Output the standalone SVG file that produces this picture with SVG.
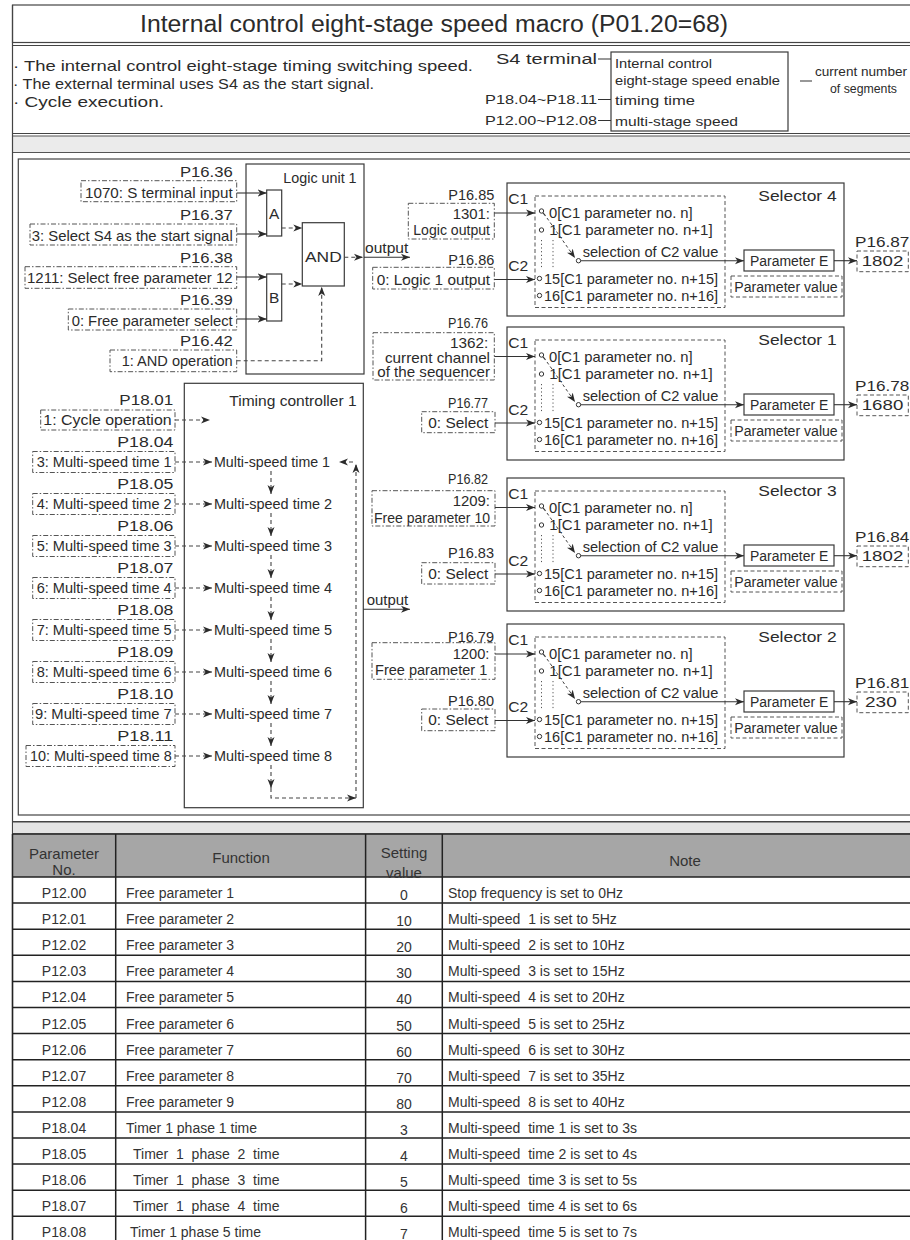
<svg xmlns="http://www.w3.org/2000/svg" width="910" height="1240" viewBox="0 0 910 1240">
<defs>
<style>
.t{font-family:"Liberation Sans",Arial,sans-serif;fill:#2b2b2b}
.a{font-size:15px}.b{font-size:14.5px}.c{font-size:14px}.d{font-size:13px}
.tt{font-family:"Liberation Sans",Arial,sans-serif;fill:#333;font-size:14px;white-space:pre}
.th{font-family:"Liberation Sans",Arial,sans-serif;fill:#333;font-size:15px}
.dd{fill:none;stroke:#555;stroke-width:1;stroke-dasharray:5 2 1.5 2}
.ds{fill:none;stroke:#555;stroke-width:1;stroke-dasharray:4 2.5}
.bx{fill:none;stroke:#3a3a3a;stroke-width:1.2}
.ln{fill:none;stroke:#333;stroke-width:1.1}
.dl{fill:none;stroke:#444;stroke-width:1.1;stroke-dasharray:4 3}
.dg{fill:none;stroke:#444;stroke-width:1;stroke-dasharray:3 2.5}
.dot{fill:none;stroke:#555;stroke-width:1;stroke-dasharray:1.2 2.5}
.cir{fill:#fff;stroke:#333;stroke-width:1}
.fr{fill:none;stroke:#444;stroke-width:1.2}
.tb{fill:none;stroke:#222;stroke-width:1.5}
</style>
<marker id="ah" markerUnits="userSpaceOnUse" markerWidth="10" markerHeight="8" refX="9" refY="4" orient="auto"><path d="M0,0.5 L9,4 L0,7.5 L2.5,4 Z" fill="#2b2b2b"/></marker>
</defs>
<rect x="0" y="0" width="910" height="1240" fill="#fff"/>

<g id="frames">
<rect class="fr" x="12.5" y="5" width="905" height="37.5"/>
<line class="fr" x1="12.5" y1="45.5" x2="915" y2="45.5"/>
<line class="fr" x1="12.5" y1="133.5" x2="915" y2="133.5"/>
<rect x="12.5" y="136" width="905" height="16.5" fill="#ebebeb" stroke="#555" stroke-width="1"/>
<line class="fr" x1="12.5" y1="5" x2="12.5" y2="1242"/>
<rect class="fr" x="18.3" y="159" width="900" height="656"/>
<line class="fr" x1="12.5" y1="821.5" x2="915" y2="821.5"/>
</g>

<g id="title">
<text class="t" x="140" y="32.3" font-size="23" textLength="588" lengthAdjust="spacingAndGlyphs">Internal control eight-stage speed macro (P01.20=68)</text>
</g>

<g id="header">
<text class="t b" x="13" y="71.2" textLength="460" lengthAdjust="spacingAndGlyphs">· The internal control eight-stage timing switching speed.</text>
<text class="t b" x="13" y="89.2" textLength="361" lengthAdjust="spacingAndGlyphs">· The external terminal uses S4 as the start signal.</text>
<text class="t b" x="13" y="107.2" textLength="151" lengthAdjust="spacingAndGlyphs">· Cycle execution.</text>
<text class="t c" x="496" y="64" textLength="101" lengthAdjust="spacingAndGlyphs">S4 terminal</text>
<text class="t d" x="485" y="104.2" textLength="112" lengthAdjust="spacingAndGlyphs">P18.04~P18.11</text>
<text class="t d" x="485" y="125.2" textLength="112" lengthAdjust="spacingAndGlyphs">P12.00~P12.08</text>
<rect class="bx" x="611" y="52" width="177" height="79"/>
<text class="t d" x="615" y="67.7" textLength="97" lengthAdjust="spacingAndGlyphs">Internal control</text>
<text class="t d" x="615" y="84.7" textLength="165" lengthAdjust="spacingAndGlyphs">eight-stage speed enable</text>
<text class="t d" x="615" y="104.7" textLength="80" lengthAdjust="spacingAndGlyphs">timing time</text>
<text class="t d" x="615" y="125.7" textLength="123" lengthAdjust="spacingAndGlyphs">multi-stage speed</text>
<text class="t d" x="815" y="75.7" textLength="92" lengthAdjust="spacingAndGlyphs">current number</text>
<text class="t d" x="830" y="92.7" textLength="67" lengthAdjust="spacingAndGlyphs">of segments</text>
</g>

<g id="logic-unit-1">
<rect class="bx" x="246" y="164" width="118" height="210"/>
<text class="t c" x="283.3" y="183.3" textLength="73.3" lengthAdjust="spacingAndGlyphs">Logic unit 1</text>
<rect class="bx" x="266.7" y="190" width="15" height="46"/>
<text class="t c" x="269" y="219" textLength="10.3" lengthAdjust="spacingAndGlyphs">A</text>
<rect class="bx" x="266.7" y="274" width="15" height="47"/>
<text class="t c" x="269" y="303" textLength="10.3" lengthAdjust="spacingAndGlyphs">B</text>
<rect class="bx" x="302.3" y="222.7" width="42" height="63.3"/>
<text class="t c" x="305" y="262.3" textLength="36.7" lengthAdjust="spacingAndGlyphs">AND</text>
</g>

<g id="logic-inputs">
<text class="t a" x="180" y="177.1" textLength="52.7" lengthAdjust="spacingAndGlyphs">P16.36</text>
<rect class="dd" x="81" y="180.7" width="155.7" height="21"/>
<text class="t b" x="85" y="197.9" textLength="147.7" lengthAdjust="spacingAndGlyphs">1070: S terminal input</text>
<text class="t a" x="180" y="219.7" textLength="52.7" lengthAdjust="spacingAndGlyphs">P16.37</text>
<rect class="dd" x="30" y="224" width="206.7" height="21"/>
<text class="t b" x="31.7" y="241.2" textLength="201" lengthAdjust="spacingAndGlyphs">3: Select S4 as the start signal</text>
<text class="t a" x="180" y="262.7" textLength="52.7" lengthAdjust="spacingAndGlyphs">P16.38</text>
<rect class="dd" x="25" y="266.7" width="211.7" height="21.6"/>
<text class="t b" x="27" y="283.2" textLength="205.7" lengthAdjust="spacingAndGlyphs">1211: Select free parameter 12</text>
<text class="t a" x="180" y="305.4" textLength="52.7" lengthAdjust="spacingAndGlyphs">P16.39</text>
<rect class="dd" x="68.3" y="309" width="168.4" height="21"/>
<text class="t b" x="71.7" y="325.9" textLength="161" lengthAdjust="spacingAndGlyphs">0: Free parameter select</text>
<text class="t a" x="180" y="346.1" textLength="52.7" lengthAdjust="spacingAndGlyphs">P16.42</text>
<rect class="dd" x="110" y="350" width="126.7" height="21.7"/>
<text class="t b" x="121.7" y="366.2" textLength="111" lengthAdjust="spacingAndGlyphs">1: AND operation</text>
<text class="t c" x="365" y="253" textLength="43.3" lengthAdjust="spacingAndGlyphs">output</text>
</g>

<g id="timing-controller-1">
<rect class="bx" x="184.3" y="383.3" width="179" height="424.4"/>
<text class="t b" x="229.3" y="405.9" textLength="127.3" lengthAdjust="spacingAndGlyphs">Timing controller 1</text>
<text class="t b" x="214" y="467.2" textLength="116" lengthAdjust="spacingAndGlyphs">Multi-speed time 1</text>
<text class="t b" x="214" y="509.2" textLength="118" lengthAdjust="spacingAndGlyphs">Multi-speed time 2</text>
<text class="t b" x="214" y="551.2" textLength="118" lengthAdjust="spacingAndGlyphs">Multi-speed time 3</text>
<text class="t b" x="214" y="593.2" textLength="118" lengthAdjust="spacingAndGlyphs">Multi-speed time 4</text>
<text class="t b" x="214" y="635.2" textLength="118" lengthAdjust="spacingAndGlyphs">Multi-speed time 5</text>
<text class="t b" x="214" y="677.2" textLength="118" lengthAdjust="spacingAndGlyphs">Multi-speed time 6</text>
<text class="t b" x="214" y="719.2" textLength="118" lengthAdjust="spacingAndGlyphs">Multi-speed time 7</text>
<text class="t b" x="214" y="761.2" textLength="118" lengthAdjust="spacingAndGlyphs">Multi-speed time 8</text>
</g>

<g id="timing-inputs">
<text class="t a" x="119.3" y="405.4" textLength="54" lengthAdjust="spacingAndGlyphs">P18.01</text>
<rect class="dd" x="40.7" y="410" width="134.3" height="20"/>
<text class="t b" x="43.3" y="425.2" textLength="128.3" lengthAdjust="spacingAndGlyphs">1: Cycle operation</text>
<text class="t a" x="117.3" y="447.1" textLength="56" lengthAdjust="spacingAndGlyphs">P18.04</text>
<rect class="dd" x="32.7" y="451.5" width="142.3" height="21"/>
<text class="t b" x="36.7" y="467.2" textLength="135" lengthAdjust="spacingAndGlyphs">3: Multi-speed time 1</text>
<text class="t a" x="117.3" y="489.1" textLength="56" lengthAdjust="spacingAndGlyphs">P18.05</text>
<rect class="dd" x="32.7" y="493.5" width="142.3" height="21"/>
<text class="t b" x="36.7" y="509.2" textLength="135" lengthAdjust="spacingAndGlyphs">4: Multi-speed time 2</text>
<text class="t a" x="117.3" y="531.1" textLength="56" lengthAdjust="spacingAndGlyphs">P18.06</text>
<rect class="dd" x="32.7" y="535.5" width="142.3" height="21"/>
<text class="t b" x="36.7" y="551.2" textLength="135" lengthAdjust="spacingAndGlyphs">5: Multi-speed time 3</text>
<text class="t a" x="117.3" y="573.1" textLength="56" lengthAdjust="spacingAndGlyphs">P18.07</text>
<rect class="dd" x="32.7" y="577.5" width="142.3" height="21"/>
<text class="t b" x="36.7" y="593.2" textLength="135" lengthAdjust="spacingAndGlyphs">6: Multi-speed time 4</text>
<text class="t a" x="117.3" y="615.1" textLength="56" lengthAdjust="spacingAndGlyphs">P18.08</text>
<rect class="dd" x="32.7" y="619.5" width="142.3" height="21"/>
<text class="t b" x="36.7" y="635.2" textLength="135" lengthAdjust="spacingAndGlyphs">7: Multi-speed time 5</text>
<text class="t a" x="117.3" y="657.1" textLength="56" lengthAdjust="spacingAndGlyphs">P18.09</text>
<rect class="dd" x="32.7" y="661.5" width="142.3" height="21"/>
<text class="t b" x="36.7" y="677.2" textLength="135" lengthAdjust="spacingAndGlyphs">8: Multi-speed time 6</text>
<text class="t a" x="117.3" y="699.1" textLength="56" lengthAdjust="spacingAndGlyphs">P18.10</text>
<rect class="dd" x="32.7" y="703.5" width="142.3" height="21"/>
<text class="t b" x="35" y="719.2" textLength="136.7" lengthAdjust="spacingAndGlyphs">9: Multi-speed time 7</text>
<text class="t a" x="117.3" y="741.1" textLength="56" lengthAdjust="spacingAndGlyphs">P18.11</text>
<rect class="dd" x="26" y="745.5" width="149" height="21"/>
<text class="t b" x="30" y="761.2" textLength="141.7" lengthAdjust="spacingAndGlyphs">10: Multi-speed time 8</text>
<text class="t c" x="366.7" y="605" textLength="41.6" lengthAdjust="spacingAndGlyphs">output</text>
</g>

<g id="selector-4" transform="translate(0,183)">
<rect class="bx" x="507" y="0" width="337" height="133"/>
<text class="t a" x="758.3" y="17.9" textLength="78.4" lengthAdjust="spacingAndGlyphs">Selector 4</text>
<text class="t a" x="508.3" y="21.4" textLength="20" lengthAdjust="spacingAndGlyphs">C1</text>
<text class="t a" x="508.3" y="88.4" textLength="20" lengthAdjust="spacingAndGlyphs">C2</text>
<rect class="ds" x="535" y="13" width="190" height="111.5"/>
<circle class="cir" cx="541.5" cy="28" r="2.2"/><line class="ln" x1="543" y1="29.8" x2="545.5" y2="32.8"/>
<circle class="cir" cx="541.5" cy="47" r="2.2"/>
<text class="t b" x="549" y="35.2" textLength="143.7" lengthAdjust="spacingAndGlyphs">0[C1 parameter no. n]</text>
<text class="t b" x="549.3" y="52.2" textLength="163.3" lengthAdjust="spacingAndGlyphs">1[C1 parameter no. n+1]</text>
<line class="dot" x1="541.5" y1="57" x2="541.5" y2="85"/><line class="dot" x1="553" y1="57" x2="553" y2="85"/>
<circle class="cir" cx="578.5" cy="77.7" r="2.2"/>
<text class="t c" x="582.7" y="73.7" textLength="135.6" lengthAdjust="spacingAndGlyphs">selection of C2 value</text>
<rect class="bx" x="744" y="67" width="90" height="21"/>
<text class="t c" x="750" y="82.5" textLength="78.3" lengthAdjust="spacingAndGlyphs">Parameter E</text>
<text class="t a" x="855" y="64.1" textLength="54.3" lengthAdjust="spacingAndGlyphs">P16.87</text>
<rect class="ds" x="857" y="68" width="51.3" height="20.7"/>
<text class="t a" x="861.7" y="83.3" textLength="41.6" lengthAdjust="spacingAndGlyphs">1802</text>
<rect class="ds" x="731" y="93" width="111" height="21"/>
<text class="t c" x="734.3" y="108.5" textLength="103.4" lengthAdjust="spacingAndGlyphs">Parameter value</text>
<circle class="cir" cx="539.5" cy="95.5" r="2.2"/>
<text class="t b" x="544" y="100.7" textLength="174" lengthAdjust="spacingAndGlyphs">15[C1 parameter no. n+15]</text>
<circle class="cir" cx="539.5" cy="112.5" r="2.2"/>
<text class="t b" x="544" y="117.7" textLength="174" lengthAdjust="spacingAndGlyphs">16[C1 parameter no. n+16]</text>
</g>

<g id="selector-1" transform="translate(0,327)">
<rect class="bx" x="507" y="0" width="337" height="133"/>
<text class="t a" x="758.3" y="17.9" textLength="78.4" lengthAdjust="spacingAndGlyphs">Selector 1</text>
<text class="t a" x="508.3" y="21.4" textLength="20" lengthAdjust="spacingAndGlyphs">C1</text>
<text class="t a" x="508.3" y="88.4" textLength="20" lengthAdjust="spacingAndGlyphs">C2</text>
<rect class="ds" x="535" y="13" width="190" height="111.5"/>
<circle class="cir" cx="541.5" cy="28" r="2.2"/><line class="ln" x1="543" y1="29.8" x2="545.5" y2="32.8"/>
<circle class="cir" cx="541.5" cy="47" r="2.2"/>
<text class="t b" x="549" y="35.2" textLength="143.7" lengthAdjust="spacingAndGlyphs">0[C1 parameter no. n]</text>
<text class="t b" x="549.3" y="52.2" textLength="163.3" lengthAdjust="spacingAndGlyphs">1[C1 parameter no. n+1]</text>
<line class="dot" x1="541.5" y1="57" x2="541.5" y2="85"/><line class="dot" x1="553" y1="57" x2="553" y2="85"/>
<circle class="cir" cx="578.5" cy="77.7" r="2.2"/>
<text class="t c" x="582.7" y="73.7" textLength="135.6" lengthAdjust="spacingAndGlyphs">selection of C2 value</text>
<rect class="bx" x="744" y="67" width="90" height="21"/>
<text class="t c" x="750" y="82.5" textLength="78.3" lengthAdjust="spacingAndGlyphs">Parameter E</text>
<text class="t a" x="855" y="64.1" textLength="54.3" lengthAdjust="spacingAndGlyphs">P16.78</text>
<rect class="ds" x="857" y="68" width="51.3" height="20.7"/>
<text class="t a" x="861.7" y="83.3" textLength="41.6" lengthAdjust="spacingAndGlyphs">1680</text>
<rect class="ds" x="731" y="93" width="111" height="21"/>
<text class="t c" x="734.3" y="108.5" textLength="103.4" lengthAdjust="spacingAndGlyphs">Parameter value</text>
<circle class="cir" cx="539.5" cy="95.5" r="2.2"/>
<text class="t b" x="544" y="100.7" textLength="174" lengthAdjust="spacingAndGlyphs">15[C1 parameter no. n+15]</text>
<circle class="cir" cx="539.5" cy="112.5" r="2.2"/>
<text class="t b" x="544" y="117.7" textLength="174" lengthAdjust="spacingAndGlyphs">16[C1 parameter no. n+16]</text>
</g>

<g id="selector-3" transform="translate(0,478)">
<rect class="bx" x="507" y="0" width="337" height="133"/>
<text class="t a" x="758.3" y="17.9" textLength="78.4" lengthAdjust="spacingAndGlyphs">Selector 3</text>
<text class="t a" x="508.3" y="21.4" textLength="20" lengthAdjust="spacingAndGlyphs">C1</text>
<text class="t a" x="508.3" y="88.4" textLength="20" lengthAdjust="spacingAndGlyphs">C2</text>
<rect class="ds" x="535" y="13" width="190" height="111.5"/>
<circle class="cir" cx="541.5" cy="28" r="2.2"/><line class="ln" x1="543" y1="29.8" x2="545.5" y2="32.8"/>
<circle class="cir" cx="541.5" cy="47" r="2.2"/>
<text class="t b" x="549" y="35.2" textLength="143.7" lengthAdjust="spacingAndGlyphs">0[C1 parameter no. n]</text>
<text class="t b" x="549.3" y="52.2" textLength="163.3" lengthAdjust="spacingAndGlyphs">1[C1 parameter no. n+1]</text>
<line class="dot" x1="541.5" y1="57" x2="541.5" y2="85"/><line class="dot" x1="553" y1="57" x2="553" y2="85"/>
<circle class="cir" cx="578.5" cy="77.7" r="2.2"/>
<text class="t c" x="582.7" y="73.7" textLength="135.6" lengthAdjust="spacingAndGlyphs">selection of C2 value</text>
<rect class="bx" x="744" y="67" width="90" height="21"/>
<text class="t c" x="750" y="82.5" textLength="78.3" lengthAdjust="spacingAndGlyphs">Parameter E</text>
<text class="t a" x="855" y="64.1" textLength="54.3" lengthAdjust="spacingAndGlyphs">P16.84</text>
<rect class="ds" x="857" y="68" width="51.3" height="20.7"/>
<text class="t a" x="861.7" y="83.3" textLength="41.6" lengthAdjust="spacingAndGlyphs">1802</text>
<rect class="ds" x="731" y="93" width="111" height="21"/>
<text class="t c" x="734.3" y="108.5" textLength="103.4" lengthAdjust="spacingAndGlyphs">Parameter value</text>
<circle class="cir" cx="539.5" cy="95.5" r="2.2"/>
<text class="t b" x="544" y="100.7" textLength="174" lengthAdjust="spacingAndGlyphs">15[C1 parameter no. n+15]</text>
<circle class="cir" cx="539.5" cy="112.5" r="2.2"/>
<text class="t b" x="544" y="117.7" textLength="174" lengthAdjust="spacingAndGlyphs">16[C1 parameter no. n+16]</text>
</g>

<g id="selector-2" transform="translate(0,624)">
<rect class="bx" x="507" y="0" width="337" height="133"/>
<text class="t a" x="758.3" y="17.9" textLength="78.4" lengthAdjust="spacingAndGlyphs">Selector 2</text>
<text class="t a" x="508.3" y="21.4" textLength="20" lengthAdjust="spacingAndGlyphs">C1</text>
<text class="t a" x="508.3" y="88.4" textLength="20" lengthAdjust="spacingAndGlyphs">C2</text>
<rect class="ds" x="535" y="13" width="190" height="111.5"/>
<circle class="cir" cx="541.5" cy="28" r="2.2"/><line class="ln" x1="543" y1="29.8" x2="545.5" y2="32.8"/>
<circle class="cir" cx="541.5" cy="47" r="2.2"/>
<text class="t b" x="549" y="35.2" textLength="143.7" lengthAdjust="spacingAndGlyphs">0[C1 parameter no. n]</text>
<text class="t b" x="549.3" y="52.2" textLength="163.3" lengthAdjust="spacingAndGlyphs">1[C1 parameter no. n+1]</text>
<line class="dot" x1="541.5" y1="57" x2="541.5" y2="85"/><line class="dot" x1="553" y1="57" x2="553" y2="85"/>
<circle class="cir" cx="578.5" cy="77.7" r="2.2"/>
<text class="t c" x="582.7" y="73.7" textLength="135.6" lengthAdjust="spacingAndGlyphs">selection of C2 value</text>
<rect class="bx" x="744" y="67" width="90" height="21"/>
<text class="t c" x="750" y="82.5" textLength="78.3" lengthAdjust="spacingAndGlyphs">Parameter E</text>
<text class="t a" x="855" y="64.1" textLength="54.3" lengthAdjust="spacingAndGlyphs">P16.81</text>
<rect class="ds" x="857" y="68" width="51.3" height="20.7"/>
<text class="t a" x="865" y="83.3" textLength="31.7" lengthAdjust="spacingAndGlyphs">230</text>
<rect class="ds" x="731" y="93" width="111" height="21"/>
<text class="t c" x="734.3" y="108.5" textLength="103.4" lengthAdjust="spacingAndGlyphs">Parameter value</text>
<circle class="cir" cx="539.5" cy="95.5" r="2.2"/>
<text class="t b" x="544" y="100.7" textLength="174" lengthAdjust="spacingAndGlyphs">15[C1 parameter no. n+15]</text>
<circle class="cir" cx="539.5" cy="112.5" r="2.2"/>
<text class="t b" x="544" y="117.7" textLength="174" lengthAdjust="spacingAndGlyphs">16[C1 parameter no. n+16]</text>
</g>

<g id="selector-inputs">
<text class="t a" x="448.3" y="199.7" textLength="46" lengthAdjust="spacingAndGlyphs">P16.85</text>
<rect class="dd" x="408.3" y="203.3" width="86" height="35.7"/>
<text class="t b" x="452.7" y="219.2" textLength="37.3" lengthAdjust="spacingAndGlyphs">1301:</text>
<text class="t b" x="413.3" y="235.2" textLength="76.7" lengthAdjust="spacingAndGlyphs">Logic output</text>
<text class="t a" x="448.3" y="265.4" textLength="46" lengthAdjust="spacingAndGlyphs">P16.86</text>
<rect class="dd" x="372.7" y="267.3" width="121.6" height="21.7"/>
<text class="t b" x="376.7" y="284.7" textLength="113.3" lengthAdjust="spacingAndGlyphs">0: Logic 1 output</text>

<text class="t a" x="448" y="327.7" textLength="40" lengthAdjust="spacingAndGlyphs">P16.76</text>
<rect class="dd" x="373" y="332.7" width="121.3" height="47.3"/>
<text class="t b" x="450" y="347.5" textLength="38.3" lengthAdjust="spacingAndGlyphs">1362:</text>
<text class="t b" x="385" y="362.5" textLength="105" lengthAdjust="spacingAndGlyphs">current channel</text>
<text class="t b" x="377.3" y="376.9" textLength="112.7" lengthAdjust="spacingAndGlyphs">of the sequencer</text>
<text class="t a" x="448" y="407.7" textLength="40" lengthAdjust="spacingAndGlyphs">P16.77</text>
<rect class="dd" x="421.7" y="411.7" width="73.3" height="21"/>
<text class="t b" x="428.3" y="427.9" textLength="60" lengthAdjust="spacingAndGlyphs">0: Select</text>

<text class="t a" x="448" y="484.4" textLength="40" lengthAdjust="spacingAndGlyphs">P16.82</text>
<rect class="dd" x="372" y="490.7" width="123" height="35.3"/>
<text class="t b" x="452.7" y="505.9" textLength="37.3" lengthAdjust="spacingAndGlyphs">1209:</text>
<text class="t b" x="374" y="522.9" textLength="116" lengthAdjust="spacingAndGlyphs">Free parameter 10</text>
<text class="t a" x="448" y="558.4" textLength="46" lengthAdjust="spacingAndGlyphs">P16.83</text>
<rect class="dd" x="421.7" y="562.7" width="73.3" height="21.3"/>
<text class="t b" x="428.3" y="579.2" textLength="60" lengthAdjust="spacingAndGlyphs">0: Select</text>

<rect class="dd" x="372" y="642.7" width="123" height="36.6"/>
<text class="t a" x="448" y="642" textLength="46" lengthAdjust="spacingAndGlyphs">P16.79</text>
<text class="t b" x="452.7" y="659.2" textLength="36.7" lengthAdjust="spacingAndGlyphs">1200:</text>
<text class="t b" x="375" y="675.2" textLength="112.3" lengthAdjust="spacingAndGlyphs">Free parameter 1</text>
<text class="t a" x="448" y="706.1" textLength="46" lengthAdjust="spacingAndGlyphs">P16.80</text>
<rect class="dd" x="421.7" y="709" width="73.3" height="21.7"/>
<text class="t b" x="428.3" y="725.2" textLength="60" lengthAdjust="spacingAndGlyphs">0: Select</text>
</g>

<g id="connectors">
<path class="ln" d="M598,59 H611 M598,99.5 H611 M598,120.5 H611 M800,81 H812"/>
<path class="ln" d="M236.7,193 H266.7" marker-end="url(#ah)"/>
<path class="ln" d="M236.7,234 H266.7" marker-end="url(#ah)"/>
<path class="ln" d="M236.7,277 H266.7" marker-end="url(#ah)"/>
<path class="ln" d="M236.7,319 H266.7" marker-end="url(#ah)"/>
<path class="dl" d="M281.7,228 H302.3" marker-end="url(#ah)"/>
<path class="dl" d="M281.7,284 H302.3" marker-end="url(#ah)"/>
<path class="dl" d="M344.3,257.3 H363" marker-end="url(#ah)"/>
<path class="ln" d="M364,257.3 H410" marker-end="url(#ah)"/>
<path class="dl" d="M236.7,360.7 H321.7 V287" marker-end="url(#ah)"/>

<path class="dl" d="M175,420 H210" marker-end="url(#ah)"/>
<path class="dl" d="M175,462 H212" marker-end="url(#ah)"/>
<path class="dl" d="M175,504 H212" marker-end="url(#ah)"/>
<path class="dl" d="M175,546 H212" marker-end="url(#ah)"/>
<path class="dl" d="M175,588 H212" marker-end="url(#ah)"/>
<path class="dl" d="M175,630 H212" marker-end="url(#ah)"/>
<path class="dl" d="M175,672 H212" marker-end="url(#ah)"/>
<path class="dl" d="M175,714 H212" marker-end="url(#ah)"/>
<path class="dl" d="M175,756 H212" marker-end="url(#ah)"/>
<path class="dl" d="M271,471 V494" marker-end="url(#ah)"/>
<path class="dl" d="M271,513 V536" marker-end="url(#ah)"/>
<path class="dl" d="M271,555 V578" marker-end="url(#ah)"/>
<path class="dl" d="M271,597 V620" marker-end="url(#ah)"/>
<path class="dl" d="M271,639 V662" marker-end="url(#ah)"/>
<path class="dl" d="M271,681 V704" marker-end="url(#ah)"/>
<path class="dl" d="M271,723 V746" marker-end="url(#ah)"/>
<path class="dl" d="M271,765 V788" marker-end="url(#ah)"/>
<path class="dl" d="M271,788 V798 H356" marker-end="url(#ah)"/>
<path class="dl" d="M356,798 V464" marker-end="url(#ah)"/>
<path class="dl" d="M353,462 H339" marker-end="url(#ah)"/>
<path class="ln" d="M363.3,609.3 H410" marker-end="url(#ah)"/>

<g transform="translate(0,183)">
<path class="ln" d="M494.3,30 H535" marker-end="url(#ah)"/>
<path class="ln" d="M494.3,96.5 H535" marker-end="url(#ah)"/>
<path class="dg" d="M547,35 L575,75" marker-end="url(#ah)"/>
<path class="ln" d="M580.8,77.7 H744" marker-end="url(#ah)"/>
<path class="ln" d="M834,77.7 H857" marker-end="url(#ah)"/>
</g>
<g transform="translate(0,327)">
<path class="ln" d="M494.3,29.5 H535" marker-end="url(#ah)"/>
<path class="ln" d="M495,96 H535" marker-end="url(#ah)"/>
<path class="dg" d="M547,35 L575,75" marker-end="url(#ah)"/>
<path class="ln" d="M580.8,77.7 H744" marker-end="url(#ah)"/>
<path class="ln" d="M834,77.7 H857" marker-end="url(#ah)"/>
</g>
<g transform="translate(0,478)">
<path class="ln" d="M495,29.5 H535" marker-end="url(#ah)"/>
<path class="ln" d="M495,96 H535" marker-end="url(#ah)"/>
<path class="dg" d="M547,35 L575,75" marker-end="url(#ah)"/>
<path class="ln" d="M580.8,77.7 H744" marker-end="url(#ah)"/>
<path class="ln" d="M834,77.7 H857" marker-end="url(#ah)"/>
</g>
<g transform="translate(0,624)">
<path class="ln" d="M495,30 H535" marker-end="url(#ah)"/>
<path class="ln" d="M495,96.5 H535" marker-end="url(#ah)"/>
<path class="dg" d="M547,35 L575,75" marker-end="url(#ah)"/>
<path class="ln" d="M580.8,77.7 H744" marker-end="url(#ah)"/>
<path class="ln" d="M834,77.7 H857" marker-end="url(#ah)"/>
</g>
</g>

<g id="table">
<rect x="12.5" y="822" width="915" height="12" fill="#e4e4e4" stroke="#444" stroke-width="1"/>
<rect x="12.5" y="834" width="915" height="43" fill="#a6a6a6"/>
<path class="tb" d="M12.5,834 H927 M12.5,877 H927 M12.5,903.1 H927 M12.5,929.2 H927 M12.5,955.3 H927 M12.5,981.4 H927 M12.5,1007.5 H927 M12.5,1033.6 H927 M12.5,1059.7 H927 M12.5,1085.8 H927 M12.5,1111.9 H927 M12.5,1138 H927 M12.5,1164.1 H927 M12.5,1190.2 H927 M12.5,1216.3 H927 M12.5,1242.4 H927"/>
<path class="tb" d="M12.5,834 V1242 M115.7,834 V1242 M365.6,834 V1242 M442.3,834 V1242"/>
<text class="th" x="64" y="859.4" text-anchor="middle">Parameter</text>
<text class="th" x="64" y="874.7" text-anchor="middle">No.</text>
<text class="th" x="241" y="863" text-anchor="middle">Function</text>
<text class="th" x="404" y="857.5" text-anchor="middle">Setting</text>
<text class="th" x="404" y="878" text-anchor="middle">value</text>
<text class="th" x="685" y="866" text-anchor="middle">Note</text>

<text class="tt" x="64" y="898" text-anchor="middle">P12.00</text><text class="tt" x="126" y="898">Free parameter 1</text><text class="tt" x="404" y="900" text-anchor="middle">0</text><text class="tt" x="448" y="898">Stop frequency is set to 0Hz</text>
<text class="tt" x="64" y="924.1" text-anchor="middle">P12.01</text><text class="tt" x="126" y="924.1">Free parameter 2</text><text class="tt" x="404" y="926.1" text-anchor="middle">10</text><text class="tt" x="448" y="924.1">Multi-speed  1 is set to 5Hz</text>
<text class="tt" x="64" y="950.2" text-anchor="middle">P12.02</text><text class="tt" x="126" y="950.2">Free parameter 3</text><text class="tt" x="404" y="952.2" text-anchor="middle">20</text><text class="tt" x="448" y="950.2">Multi-speed  2 is set to 10Hz</text>
<text class="tt" x="64" y="976.3" text-anchor="middle">P12.03</text><text class="tt" x="126" y="976.3">Free parameter 4</text><text class="tt" x="404" y="978.3" text-anchor="middle">30</text><text class="tt" x="448" y="976.3">Multi-speed  3 is set to 15Hz</text>
<text class="tt" x="64" y="1002.4" text-anchor="middle">P12.04</text><text class="tt" x="126" y="1002.4">Free parameter 5</text><text class="tt" x="404" y="1004.4" text-anchor="middle">40</text><text class="tt" x="448" y="1002.4">Multi-speed  4 is set to 20Hz</text>
<text class="tt" x="64" y="1028.5" text-anchor="middle">P12.05</text><text class="tt" x="126" y="1028.5">Free parameter 6</text><text class="tt" x="404" y="1030.5" text-anchor="middle">50</text><text class="tt" x="448" y="1028.5">Multi-speed  5 is set to 25Hz</text>
<text class="tt" x="64" y="1054.6" text-anchor="middle">P12.06</text><text class="tt" x="126" y="1054.6">Free parameter 7</text><text class="tt" x="404" y="1056.6" text-anchor="middle">60</text><text class="tt" x="448" y="1054.6">Multi-speed  6 is set to 30Hz</text>
<text class="tt" x="64" y="1080.7" text-anchor="middle">P12.07</text><text class="tt" x="126" y="1080.7">Free parameter 8</text><text class="tt" x="404" y="1082.7" text-anchor="middle">70</text><text class="tt" x="448" y="1080.7">Multi-speed  7 is set to 35Hz</text>
<text class="tt" x="64" y="1106.8" text-anchor="middle">P12.08</text><text class="tt" x="126" y="1106.8">Free parameter 9</text><text class="tt" x="404" y="1108.8" text-anchor="middle">80</text><text class="tt" x="448" y="1106.8">Multi-speed  8 is set to 40Hz</text>
<text class="tt" x="64" y="1132.9" text-anchor="middle">P18.04</text><text class="tt" x="126" y="1132.9">Timer 1 phase 1 time</text><text class="tt" x="404" y="1134.9" text-anchor="middle">3</text><text class="tt" x="448" y="1132.9">Multi-speed  time 1 is set to 3s</text>
<text class="tt" x="64" y="1159" text-anchor="middle">P18.05</text><text class="tt" x="133" y="1159">Timer  1  phase  2  time</text><text class="tt" x="404" y="1161" text-anchor="middle">4</text><text class="tt" x="448" y="1159">Multi-speed  time 2 is set to 4s</text>
<text class="tt" x="64" y="1185.1" text-anchor="middle">P18.06</text><text class="tt" x="133" y="1185.1">Timer  1  phase  3  time</text><text class="tt" x="404" y="1187.1" text-anchor="middle">5</text><text class="tt" x="448" y="1185.1">Multi-speed  time 3 is set to 5s</text>
<text class="tt" x="64" y="1211.2" text-anchor="middle">P18.07</text><text class="tt" x="133" y="1211.2">Timer  1  phase  4  time</text><text class="tt" x="404" y="1213.2" text-anchor="middle">6</text><text class="tt" x="448" y="1211.2">Multi-speed  time 4 is set to 6s</text>
<text class="tt" x="64" y="1237.3" text-anchor="middle">P18.08</text><text class="tt" x="130" y="1237.3">Timer 1 phase 5 time</text><text class="tt" x="404" y="1239.3" text-anchor="middle">7</text><text class="tt" x="448" y="1237.3">Multi-speed  time 5 is set to 7s</text>
</g>
</svg>
